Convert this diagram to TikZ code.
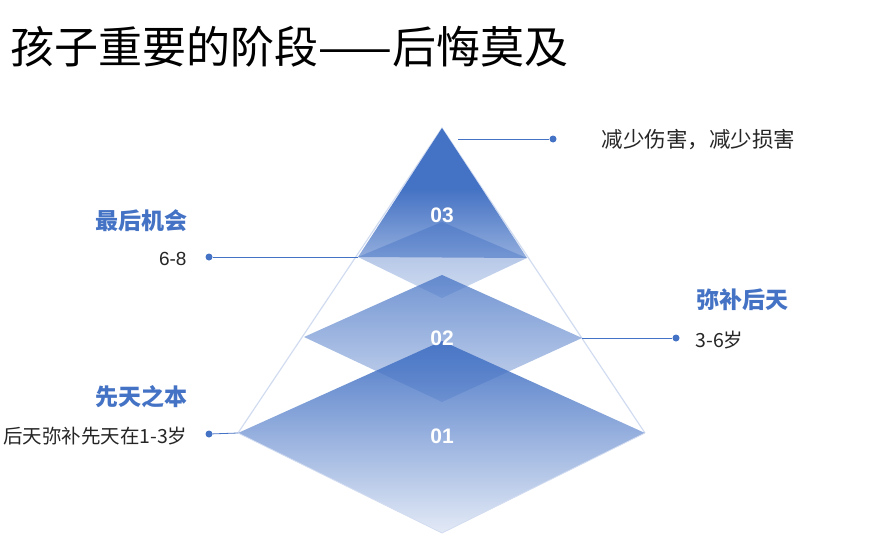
\documentclass[tikz,border=0pt]{standalone}
\usepackage{fontspec}
\setmainfont{Noto Sans CJK SC}
\newfontfamily\numfont{Liberation Sans}
\usetikzlibrary{fadings}

\definecolor{layerblue}{HTML}{4472C4}
\definecolor{edgeblue}{HTML}{D2DCF1}

% fadings for the layers
\tikzfading[name=fadeone, top color=transparent!5, bottom color=transparent!85]
\tikzfading[name=fadetwo, top color=transparent!25, bottom color=transparent!72]
\tikzfading[name=fadecap, top color=transparent!50, bottom color=transparent!75]

\tikzset{
  leader/.style={draw=layerblue, line width=0.8pt},
  dot/.style={circle, fill=layerblue, inner sep=0pt, minimum size=7pt},
  heading/.style={text=layerblue, font=\bfseries\fontsize{23}{26}\selectfont},
  note/.style={text=black!85, font=\fontsize{19.5}{22}\selectfont},
  layernum/.style={text=white, font=\numfont\bfseries\fontsize{21}{24}\selectfont}
}

\begin{document}
\begin{tikzpicture}[x=1pt,y=-1pt]
  \useasboundingbox (0,0) rectangle (885,551);

  % corners of the pyramid
  \coordinate (apex) at (442,128);
  \coordinate (oneL) at (238,433);
  \coordinate (oneR) at (645,433);
  \coordinate (twoL) at (304,337);
  \coordinate (twoR) at (582,338);
  \coordinate (threeL) at (358,257);
  \coordinate (threeR) at (527,258);
  \coordinate (midL) at (403,188);
  \coordinate (midR) at (481.4,188);
  \coordinate (capstart) at (458,139);

  % outline of the pyramid
  \draw[edgeblue, line width=1.2pt] (oneL) -- (apex) -- (oneR);

  % layer 01
  \fill[layerblue, path fading=fadeone] (oneL) -- (442,341) -- (oneR) -- (442,533) -- cycle;
  \draw[edgeblue, line width=0.8pt] (oneL) -- (442,533) -- (oneR);

  % layer 02
  \fill[layerblue, path fading=fadetwo] (twoL) -- (442,275) -- (twoR) -- (442,402) -- cycle;

  % layer 03
  \fill[layerblue] (apex) -- ([xshift=0.4pt,yshift=-0.6pt]midR) -- ([xshift=-0.4pt,yshift=-0.6pt]midL) -- cycle;
  \shade[top color=layerblue, bottom color=layerblue!58!white] (midL) -- (midR) -- (threeR) -- (threeL) -- cycle;
  \fill[layerblue, path fading=fadecap] (threeL) -- (442,222) -- (threeR) -- (442,298) -- cycle;

  % numbers
  \node[layernum] (n3) at (442,215) {03};
  \node[layernum] (n2) at (442,338) {02};
  \node[layernum] (n1) at (442,436) {01};

  % title
  \node[anchor=west, font=\fontsize{44}{52}\selectfont] (title) at (7,47) {孩子重要的阶段——后悔莫及};

  % top right
  \node[dot] (dtop) at (553,139) {};
  \draw[leader] (capstart) -- (dtop);
  \node[anchor=west, text=black!85, font=\fontsize{21.5}{24}\selectfont] (ttop) at (598,140) {减少伤害，减少损害};

  % left upper
  \node[heading, anchor=east] (h3) at (191,221) {最后机会};
  \node[dot] (d3) at (209,257) {};
  \draw[leader] (d3) -- (threeL);
  \node[anchor=east, text=black!85, font=\numfont\fontsize{19}{22}\selectfont] (t3) at (190,259) {6-8};

  % right middle
  \node[heading, anchor=west] (h2) at (693,300) {弥补后天};
  \node[dot] (d2) at (676,338) {};
  \draw[leader] (twoR) -- (d2);
  \node[note, anchor=west] (t2) at (692,340) {3-6岁};

  % left lower
  \node[heading, anchor=east] (h1) at (191,397) {先天之本};
  \node[dot] (d1) at (209,434) {};
  \draw[leader] (d1) -- (oneL);
  \node[note, anchor=east] (t1) at (191,436) {后天弥补先天在1-3岁};
\end{tikzpicture}
\end{document}
